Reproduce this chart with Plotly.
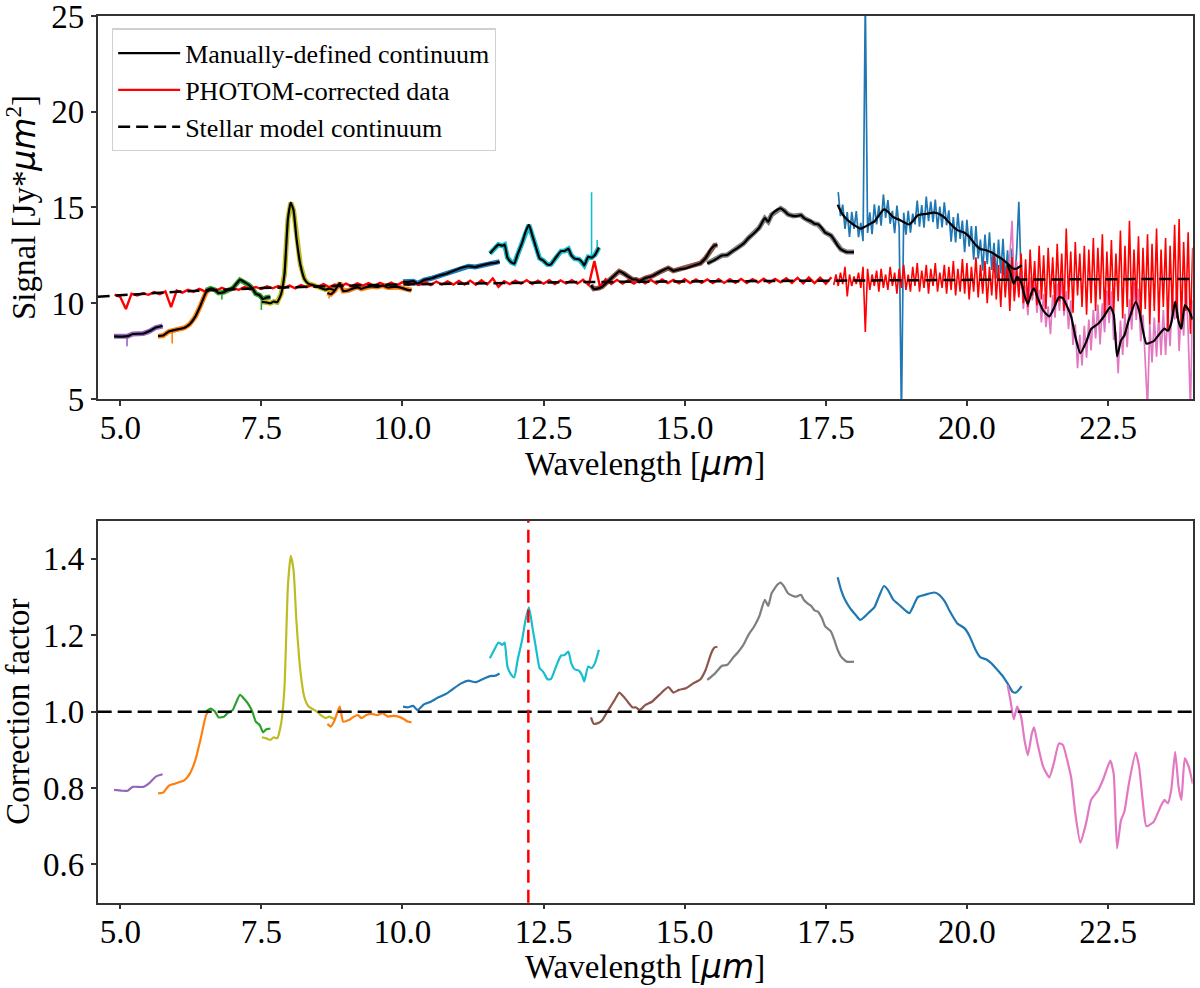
import numpy as np
import plotly.graph_objects as go
from plotly.subplots import make_subplots

# ------------------------
# Colours (matplotlib tab10)
# ------------------------
TAB = dict(purple="#9467bd", orange="#ff7f0e", green="#2ca02c", olive="#bcbd22",
           blue="#1f77b4", cyan="#17becf", brown="#8c564b", gray="#7f7f7f",
           pink="#e377c2")

# ------------------------
# Per-segment data: wavelength, correction factor, manual continuum (Jy*um^2)
# ------------------------
wl_purple = [4.89, 5.03, 5.13, 5.22, 5.41, 5.51, 5.63, 5.75]
cf_purple = [0.795, 0.793, 0.793, 0.803, 0.803, 0.812, 0.830, 0.836]
sig_purple = [8.27, 8.26, 8.28, 8.39, 8.42, 8.53, 8.73, 8.81]

wl_orange1 = [5.67, 5.76, 5.86, 5.98, 6.14, 6.23, 6.33, 6.42, 6.52, 6.56]
cf_orange1 = [0.786, 0.788, 0.806, 0.812, 0.821, 0.837, 0.873, 0.926, 0.991, 1.000]
sig_orange1 = [8.28, 8.31, 8.52, 8.61, 8.72, 8.90, 9.30, 9.87, 10.57, 10.68]

wl_green = [6.52, 6.60, 6.68, 6.74, 6.84, 6.90, 6.99, 7.12, 7.21, 7.28, 7.34, 7.40,
            7.47, 7.53, 7.59, 7.66]
cf_green = [1.000, 1.008, 1.000, 0.985, 0.987, 0.996, 1.004, 1.044, 1.031, 1.017,
            1.000, 0.974, 0.965, 0.946, 0.954, 0.956]
sig_green = [10.67, 10.77, 10.69, 10.54, 10.58, 10.69, 10.78, 11.22, 11.09, 10.95,
             10.78, 10.50, 10.41, 10.21, 10.30, 10.32]

wl_olive = [7.51, 7.59, 7.66, 7.72, 7.78, 7.85, 7.91, 7.97, 8.02, 8.07, 8.12, 8.19,
            8.26, 8.33, 8.42, 8.51, 8.57, 8.64, 8.70, 8.80]
cf_olive = [0.933, 0.930, 0.926, 0.933, 0.930, 0.969, 1.066, 1.328, 1.408, 1.371,
            1.240, 1.109, 1.039, 1.015, 1.006, 0.997, 0.989, 0.983, 0.987, 0.980]
sig_olive = [10.07, 10.04, 10.00, 10.09, 10.05, 10.48, 11.53, 14.38, 15.25, 14.86,
             13.44, 12.03, 11.28, 11.02, 10.94, 10.85, 10.77, 10.71, 10.76, 10.68]

wl_orange2 = [8.67, 8.73, 8.80, 8.86, 8.89, 8.95, 9.05, 9.14, 9.21, 9.27, 9.36, 9.46,
              9.55, 9.65, 9.74, 9.84, 9.93, 10.03, 10.09, 10.16]
cf_orange2 = [0.968, 0.961, 0.978, 1.004, 1.013, 0.974, 0.978, 0.987, 0.991, 0.983,
              0.991, 0.994, 0.991, 0.996, 0.987, 0.989, 0.987, 0.980, 0.974, 0.972]
sig_orange2 = [10.54, 10.47, 10.66, 10.95, 11.05, 10.64, 10.68, 10.79, 10.83, 10.75,
               10.84, 10.88, 10.85, 10.92, 10.82, 10.85, 10.84, 10.76, 10.70, 10.68]

wl_blue1 = [10.01, 10.09, 10.19, 10.27, 10.38, 10.50, 10.63, 10.79, 10.91, 11.04,
            11.17, 11.29, 11.42, 11.55, 11.64, 11.72]
cf_blue1 = [1.013, 1.011, 1.015, 1.004, 1.019, 1.026, 1.037, 1.048, 1.061, 1.074,
            1.081, 1.077, 1.085, 1.093, 1.094, 1.100]
sig_blue1 = [11.12, 11.11, 11.15, 11.03, 11.21, 11.29, 11.42, 11.55, 11.69, 11.85,
             11.93, 11.89, 11.99, 12.08, 12.10, 12.17]

wl_cyan = [11.55, 11.64, 11.70, 11.77, 11.81, 11.86, 11.93, 11.98, 12.04, 12.12,
           12.18, 12.24, 12.31, 12.37, 12.43, 12.49, 12.57, 12.63, 12.72, 12.81,
           12.87, 12.94, 12.99, 13.05, 13.13, 13.19, 13.22, 13.29, 13.35, 13.41, 13.48]
cf_cyan = [1.140, 1.166, 1.181, 1.175, 1.181, 1.118, 1.096, 1.090, 1.135, 1.188,
           1.240, 1.273, 1.214, 1.162, 1.114, 1.105, 1.085, 1.085, 1.118, 1.147,
           1.148, 1.157, 1.127, 1.111, 1.107, 1.092, 1.079, 1.118, 1.114, 1.127, 1.162]
sig_cyan = [12.60, 12.90, 13.06, 13.00, 13.06, 12.38, 12.13, 12.07, 12.56, 13.15,
            13.73, 14.09, 13.45, 12.87, 12.34, 12.24, 12.02, 12.03, 12.40, 12.72,
            12.73, 12.84, 12.51, 12.33, 12.29, 12.12, 11.98, 12.42, 12.38, 12.52, 12.91]

wl_brown = [13.34, 13.39, 13.48, 13.54, 13.63, 13.76, 13.84, 13.92, 14.00, 14.08,
            14.14, 14.20, 14.30, 14.42, 14.55, 14.71, 14.80, 14.90, 15.02, 15.15,
            15.28, 15.37, 15.47, 15.53, 15.58]
cf_brown = [0.985, 0.968, 0.971, 0.978, 1.000, 1.031, 1.050, 1.039, 1.024, 1.011,
            1.011, 1.004, 1.017, 1.026, 1.044, 1.064, 1.050, 1.057, 1.061, 1.074,
            1.085, 1.109, 1.153, 1.168, 1.170]
sig_brown = [10.94, 10.75, 10.79, 10.87, 11.11, 11.46, 11.67, 11.55, 11.39, 11.24,
             11.24, 11.16, 11.31, 11.41, 11.62, 11.84, 11.69, 11.77, 11.82, 11.96,
             12.09, 12.36, 12.85, 13.02, 13.04]

wl_gray = [15.40, 15.53, 15.66, 15.75, 15.85, 15.94, 16.04, 16.13, 16.23, 16.32,
           16.42, 16.48, 16.54, 16.64, 16.70, 16.76, 16.83, 16.92, 16.98, 17.06,
           17.11, 17.17, 17.24, 17.30, 17.36, 17.43, 17.49, 17.59, 17.65, 17.71,
           17.77, 17.87, 18.00]
cf_gray = [1.083, 1.099, 1.120, 1.122, 1.140, 1.155, 1.175, 1.201, 1.223, 1.249,
           1.293, 1.277, 1.310, 1.332, 1.338, 1.328, 1.310, 1.303, 1.301, 1.306,
           1.293, 1.284, 1.277, 1.265, 1.262, 1.245, 1.223, 1.210, 1.188, 1.162,
           1.144, 1.131, 1.131]
sig_gray = [12.08, 12.26, 12.49, 12.52, 12.72, 12.89, 13.11, 13.40, 13.65, 13.94,
            14.44, 14.26, 14.63, 14.88, 14.95, 14.84, 14.64, 14.56, 14.55, 14.60,
            14.46, 14.36, 14.28, 14.15, 14.12, 13.93, 13.69, 13.54, 13.30, 13.01,
            12.81, 12.67, 12.67]

wl_blue2 = [17.71, 17.77, 17.84, 17.93, 18.03, 18.11, 18.19, 18.28, 18.36, 18.44,
            18.53, 18.60, 18.69, 18.82, 18.91, 18.98, 19.04, 19.13, 19.26, 19.42,
            19.51, 19.61, 19.70, 19.83, 19.96, 20.05, 20.15, 20.24, 20.34, 20.43,
            20.53, 20.62, 20.72, 20.81, 20.87, 20.92, 20.97]
cf_blue2 = [1.352, 1.319, 1.293, 1.271, 1.253, 1.240, 1.249, 1.262, 1.273, 1.301,
            1.329, 1.319, 1.294, 1.277, 1.265, 1.258, 1.273, 1.300, 1.306, 1.312,
            1.306, 1.288, 1.262, 1.231, 1.218, 1.197, 1.163, 1.142, 1.137, 1.127,
            1.111, 1.096, 1.074, 1.052, 1.050, 1.057, 1.067]
sig_blue2 = [15.14, 14.77, 14.48, 14.24, 14.03, 13.89, 13.99, 14.14, 14.26, 14.58,
             14.90, 14.79, 14.51, 14.33, 14.19, 14.11, 14.28, 14.59, 14.66, 14.73,
             14.66, 14.46, 14.17, 13.82, 13.68, 13.44, 13.06, 12.83, 12.77, 12.66,
             12.48, 12.31, 12.07, 11.82, 11.80, 11.88, 11.99]

wl_pink = [20.72, 20.77, 20.83, 20.89, 20.96, 21.02, 21.08, 21.15, 21.19, 21.25,
           21.35, 21.46, 21.54, 21.63, 21.70, 21.79, 21.85, 21.92, 22.01, 22.11,
           22.20, 22.33, 22.42, 22.54, 22.60, 22.66, 22.73, 22.79, 22.87, 22.99,
           23.05, 23.12, 23.18, 23.31, 23.43, 23.50, 23.56, 23.62, 23.69, 23.75,
           23.80, 23.86, 23.93, 24.00]
cf_pink = [1.070, 1.031, 0.980, 1.013, 0.987, 0.926, 0.886, 0.943, 0.959, 0.917,
           0.856, 0.828, 0.865, 0.917, 0.913, 0.865, 0.825, 0.734, 0.657, 0.707,
           0.769, 0.795, 0.825, 0.872, 0.838, 0.642, 0.716, 0.738, 0.812, 0.893,
           0.856, 0.760, 0.700, 0.712, 0.751, 0.769, 0.760, 0.795, 0.895, 0.803,
           0.769, 0.878, 0.856, 0.812]
sig_pink = [12.03, 11.59, 11.02, 11.39, 11.09, 10.41, 9.96, 10.60, 10.78, 10.31,
            9.62, 9.31, 9.73, 10.31, 10.27, 9.73, 9.28, 8.26, 7.39, 7.95,
            8.65, 8.94, 9.28, 9.81, 9.43, 7.23, 8.06, 8.31, 9.14, 10.06,
            9.64, 8.56, 7.89, 8.02, 8.46, 8.67, 8.56, 8.96, 10.09, 9.05,
            8.67, 9.89, 9.65, 9.15]

# ------------------------
# Raw (noisy) data of the two long-wavelength segments
# ------------------------
blue2_raw_range = (17.72, 20.96)
blue2_raw = [15.8, 14.55, 15.15, 13.88, 14.76, 13.46, 14.77, 13.88, 14.81, 13.45,
             14.2, 13.24, 26.0, 13.67, 14.74, 13.6, 15.16, 14.12, 15.1, 14.05,
             15.68, 14.46, 15.38, 14.15, 14.82, 13.66, 15.1, 13.94, 4.0, 14.73,
             13.58, 14.83, 13.68, 14.68, 14.12, 15.36, 14.0, 15.13, 13.95, 15.57,
             14.29, 15.31, 14.23, 15.41, 13.88, 15.05, 13.96, 15.27, 14.07, 14.85,
             13.22, 14.5, 13.18, 14.7, 13.36, 14.32, 12.67, 14.36, 12.96, 14.03,
             12.27, 14.03, 12.33, 13.33, 11.7, 13.58, 12.04, 13.7, 11.74, 13.16,
             11.29, 13.32, 11.55, 13.36, 11.16, 12.76, 10.65, 12.85, 10.91, 12.61,
             15.3, 11.49]

pink_raw_range = (20.72, 24.0)
pink_raw = [11.43, 12.45, 14.3, 10.38, 12.23, 10.45, 11.65, 9.7, 10.92, 9.37,
            11.35, 10.15, 11.52, 9.5, 10.7, 9.0, 10.48, 8.75, 9.84, 8.38,
            10.42, 9.25, 11.02, 9.6, 11.38, 9.35, 10.62, 8.65, 10.15, 7.82,
            8.9, 6.6, 8.35, 6.75, 8.82, 7.15, 9.15, 7.53, 9.66, 8.16,
            9.93, 7.85, 10.0, 8.48, 10.67, 8.96, 10.62, 8.08, 8.5, 6.35,
            9.1, 7.3, 9.45, 7.7, 10.2, 8.62, 11.12, 9.12, 10.75, 8.0,
            9.4, 6.85, 4.5, 8.93, 6.9, 9.25, 7.2, 9.45, 7.28, 9.64,
            7.3, 9.66, 7.75, 10.5, 9.15, 10.8, 7.5, 9.87, 8.3, 11.25,
            8.5, 4.5, 10.15]

# Narrow glitches seen in the short-wavelength raw data
spike_wl = [5.12, 5.92, 6.80, 7.50, 8.70, 13.35, 13.45]
spike_base = [8.28, 8.60, 10.58, 10.30, 10.60, 12.30, 12.60]
spike_tip = [7.75, 7.90, 10.20, 9.65, 10.25, 15.80, 13.30]
spike_col = ["purple", "orange", "green", "green", "orange", "cyan", "cyan"]

# ------------------------
# PHOTOM-corrected data and stellar model
# ------------------------
photom_short_range = (4.9, 17.6)
photom_short = [10.45, 10.33, 9.7, 10.5, 10.4, 10.52, 10.44, 10.58, 10.47, 10.62,
                9.8, 10.66, 10.55, 10.7, 10.6, 10.75, 10.62, 10.72, 10.66, 10.8,
                10.68, 10.78, 10.7, 10.84, 10.72, 10.85, 10.74, 10.88, 10.78, 10.9,
                10.8, 10.92, 10.78, 10.95, 10.84, 10.96, 10.86, 11.0, 10.84, 10.98,
                10.88, 11.02, 10.88, 11.04, 10.92, 11.05, 10.9, 11.06, 10.94, 11.08,
                10.93, 11.1, 10.95, 11.08, 10.96, 11.12, 10.95, 11.13, 10.98, 11.14,
                10.97, 11.16, 10.98, 11.18, 10.96, 11.2, 10.98, 11.3, 10.85, 11.15,
                11.0, 11.18, 11.02, 11.2, 11.0, 11.18, 11.02, 11.2, 11.0, 11.19,
                11.03, 11.2, 11.02, 11.22, 10.95, 12.2, 10.85, 11.25, 11.0, 11.22,
                11.02, 11.2, 11.03, 11.23, 11.04, 11.22, 11.03, 11.24, 11.05, 11.22,
                11.04, 11.25, 11.05, 11.24, 11.06, 11.24, 11.05, 11.26, 11.06, 11.25,
                11.07, 11.27, 11.06, 11.26, 11.08, 11.28, 11.07, 11.27, 11.09, 11.3,
                11.06, 11.32, 11.04, 11.34, 11.05, 11.33, 11.02, 11.36]

photom_long_range = (17.64, 24.0)
photom_long = [10.95, 11.5, 10.9, 11.6, 11.0, 11.9, 10.35, 11.5, 10.9, 11.4,
               11.0, 11.6, 10.8, 11.9, 8.5, 11.8, 10.7, 11.5, 10.9, 11.7,
               10.6, 11.8, 10.8, 11.5, 10.7, 11.9, 10.9, 11.6, 10.5, 11.8,
               10.8, 12.0, 10.7, 11.5, 10.6, 11.9, 10.9, 12.1, 10.6, 11.7,
               10.8, 12.0, 10.5, 11.8, 10.9, 12.1, 10.6, 11.6, 10.8, 12.0,
               10.5, 11.9, 10.7, 12.2, 10.4, 11.8, 10.6, 12.3, 10.5, 12.1,
               10.2, 11.9, 10.6, 12.4, 10.3, 12.0, 10.5, 12.2, 10.0, 11.9,
               10.4, 12.5, 10.2, 12.0, 9.8, 12.3, 10.3, 12.1, 9.6, 12.4,
               10.1, 11.8, 10.3, 12.6, 10.0, 12.3, 9.8, 12.8, 10.4, 12.2,
               9.9, 13.0, 10.2, 12.5, 9.7, 12.9, 10.3, 12.4, 9.9, 13.1,
               10.1, 12.6, 9.6, 13.9, 10.2, 12.7, 9.5, 13.2, 10.4, 12.6,
               9.8, 13.0, 9.4, 12.8, 10.0, 13.4, 9.6, 12.9, 10.2, 13.6,
               9.3, 12.7, 9.9, 13.3, 9.5, 12.6, 10.1, 13.8, 9.2, 13.0,
               9.8, 14.3, 9.4, 12.8, 10.0, 13.5, 9.1, 12.9, 9.7, 13.6,
               8.9, 13.1, 9.6, 13.9, 9.0, 12.8, 9.8, 13.4, 8.6, 13.0,
               9.5, 14.1, 9.2, 14.4, 8.8, 13.2, 9.6, 13.7, 8.4, 12.9]

model_wl = [4.6, 4.9, 5.5, 6.0, 6.5, 7.0, 7.5, 8.0, 8.5, 9.0, 9.5, 10.0, 11.0, 12.0,
            13.0, 14.0, 15.0, 16.0, 17.0, 18.0, 19.0, 20.0, 21.0, 22.0, 23.0, 24.0]
model_sig = [10.34, 10.40, 10.50, 10.60, 10.67, 10.74, 10.79, 10.83, 10.88, 10.92,
             10.95, 10.98, 11.03, 11.07, 11.10, 11.12, 11.14, 11.16, 11.18, 11.20,
             11.22, 11.23, 11.24, 11.25, 11.26, 11.27]

red_line_wl = 12.23

segments = [
    ("purple", wl_purple, cf_purple, sig_purple),
    ("orange", wl_orange1, cf_orange1, sig_orange1),
    ("green", wl_green, cf_green, sig_green),
    ("olive", wl_olive, cf_olive, sig_olive),
    ("orange", wl_orange2, cf_orange2, sig_orange2),
    ("blue", wl_blue1, cf_blue1, sig_blue1),
    ("cyan", wl_cyan, cf_cyan, sig_cyan),
    ("brown", wl_brown, cf_brown, sig_brown),
    ("gray", wl_gray, cf_gray, sig_gray),
    ("blue", wl_blue2, cf_blue2, sig_blue2),
    ("pink", wl_pink, cf_pink, sig_pink),
]

# ------------------------
# Figure
# ------------------------
fig = make_subplots(rows=2, cols=1)

# raw data (coloured) underneath the continuum
for col, wl, cf, sig in segments:
    if wl is wl_pink or wl is wl_blue2:
        continue
    fig.add_trace(go.Scatter(x=wl, y=sig, mode="lines", showlegend=False,
                             line=dict(color=TAB[col], width=5)), row=1, col=1)

for w, b, t, c in zip(spike_wl, spike_base, spike_tip, spike_col):
    fig.add_trace(go.Scatter(x=[w, w], y=[b, t], mode="lines", showlegend=False,
                             line=dict(color=TAB[c], width=1.6)), row=1, col=1)

fig.add_trace(go.Scatter(x=np.linspace(*blue2_raw_range, len(blue2_raw)), y=blue2_raw,
                         mode="lines", showlegend=False,
                         line=dict(color=TAB["blue"], width=1.7)), row=1, col=1)
fig.add_trace(go.Scatter(x=np.linspace(*pink_raw_range, len(pink_raw)), y=pink_raw,
                         mode="lines", showlegend=False,
                         line=dict(color=TAB["pink"], width=1.7)), row=1, col=1)

# PHOTOM-corrected data
fig.add_trace(go.Scatter(x=np.linspace(*photom_short_range, len(photom_short)),
                         y=photom_short, mode="lines",
                         name="PHOTOM-corrected data", legendgroup="b", legendrank=2,
                         line=dict(color="#ff0000", width=2.4)), row=1, col=1)
fig.add_trace(go.Scatter(x=np.linspace(*photom_long_range, len(photom_long)),
                         y=photom_long, mode="lines", showlegend=False,
                         legendgroup="b", line=dict(color="#ff0000", width=1.6)),
              row=1, col=1)

# manual continuum (black)
for i, (col, wl, cf, sig) in enumerate(segments):
    fig.add_trace(go.Scatter(x=wl, y=sig, mode="lines",
                             name="Manually-defined continuum", legendgroup="a",
                             legendrank=1, showlegend=(i == 0),
                             line=dict(color="black", width=2.2, shape="spline",
                                       smoothing=0.5)), row=1, col=1)

# stellar model
fig.add_trace(go.Scatter(x=model_wl, y=model_sig, mode="lines",
                         name="Stellar model continuum", legendgroup="c", legendrank=3,
                         line=dict(color="black", width=2.5, dash="12px,6px")),
              row=1, col=1)

# correction factors
for col, wl, cf, sig in segments:
    fig.add_trace(go.Scatter(x=wl, y=cf, mode="lines", showlegend=False,
                             line=dict(color=TAB[col], width=2.2, shape="spline",
                                       smoothing=0.5)), row=2, col=1)

fig.add_hline(y=1.0, line=dict(color="black", width=2.5, dash="14px,6px"), row=2, col=1)
fig.add_vline(x=red_line_wl, line=dict(color="#ff0000", width=2.5, dash="13px,7px"),
              row=2, col=1)

# ------------------------
# Axes / layout
# ------------------------
FONT = "Liberation Serif, Times New Roman, serif"
MU = "<span style='font-family:DejaVu Sans'><i>μm</i></span>"

axis_style = dict(showline=True, mirror=True, linecolor="#333333", linewidth=1.5,
                  ticks="outside", ticklen=5, tickwidth=1.5, tickcolor="#333333",
                  showgrid=False, zeroline=False, automargin=False,
                  ticklabeloverflow="allow",
                  tickfont=dict(family=FONT, size=33, color="black"))

for r in (1, 2):
    fig.update_xaxes(axis_style, row=r, col=1, domain=[0.0814, 0.9939],
                     range=[4.6, 24.0], tick0=5, dtick=2.5, tickformat=".1f",
                     ticklabelstandoff=-6)

# x-axis titles placed just under each panel
for ypos in (0.5304, 0.0213):
    fig.add_annotation(text=f"Wavelength [{MU}]", xref="paper", yref="paper",
                       x=0.5375, y=ypos, xanchor="center", yanchor="middle",
                       showarrow=False, font=dict(family=FONT, size=33, color="black"))

fig.update_yaxes(axis_style, row=1, col=1, domain=[0.5962, 0.9838], range=[5, 25],
                 tickvals=[5, 10, 15, 20, 25],
                 title=dict(text=f"Signal [Jy*{MU}<sup>2</sup>]", standoff=6,
                            font=dict(family=FONT, size=33, color="black")))
fig.update_yaxes(axis_style, row=2, col=1, domain=[0.0864, 0.4730], range=[0.5, 1.5],
                 tickvals=[0.6, 0.8, 1.0, 1.2, 1.4], tickformat=".1f",
                 title=dict(text="Correction factor", standoff=10,
                            font=dict(family=FONT, size=33, color="black")))

fig.update_layout(
    width=1200, height=988,
    margin=dict(l=0, r=0, t=0, b=0),
    plot_bgcolor="white", paper_bgcolor="white",
    font=dict(family=FONT, size=26, color="black"),
    legend=dict(x=0.0933, y=0.9712, xanchor="left", yanchor="top",
                bgcolor="white", bordercolor="#d0d0d0", borderwidth=1.2,
                traceorder="grouped", tracegroupgap=0, itemwidth=62,
                font=dict(family=FONT, size=26, color="black")),
)

fig.write_html("out.html", config={"displayModeBar": False},
               post_script="document.body.style.margin='0px';")
